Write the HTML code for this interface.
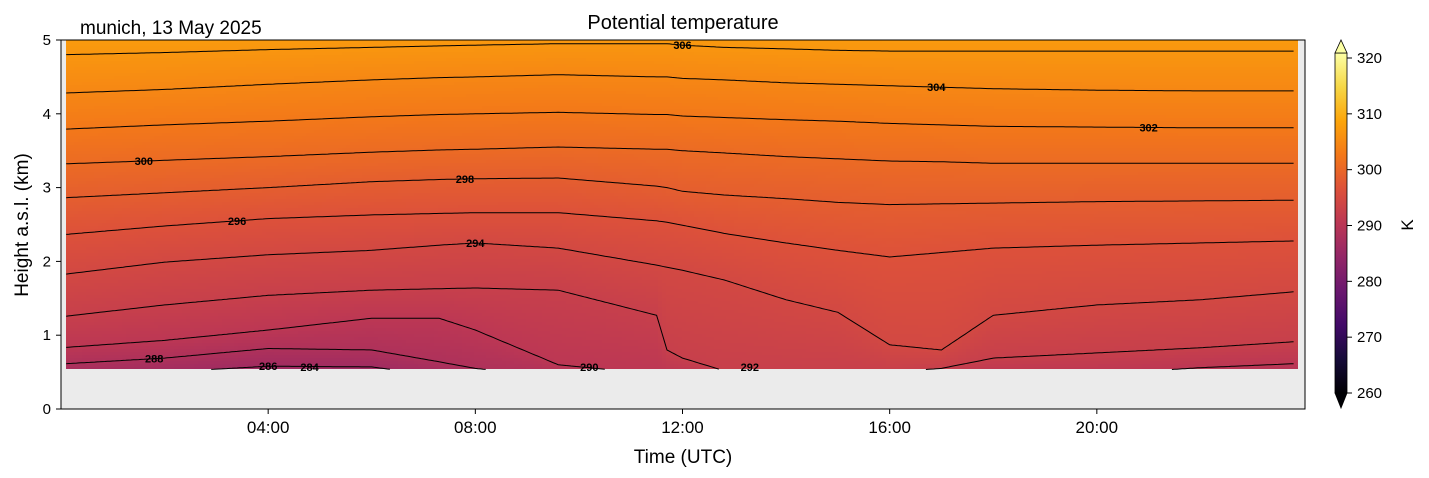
<!DOCTYPE html>
<html><head><meta charset="utf-8"><style>
body{margin:0;background:#fff;}
svg{display:block;font-family:"Liberation Sans",sans-serif;}
</style></head><body>
<svg id="chart" width="1429" height="478" viewBox="0 0 1429 478">
<rect x="61" y="40" width="1244" height="369" fill="#ebebeb"/>
<g id="cells"></g>
<g id="contours"></g>
<g id="clabels"></g>
<rect x="61" y="40" width="1244" height="369" fill="none" stroke="#000" stroke-width="1"/>
<g id="axes"></g>
<text x="683" y="29" font-size="20" text-anchor="middle">Potential temperature</text>
<text x="80" y="34" font-size="19">munich, 13 May 2025</text>
<text x="683" y="463" font-size="19" text-anchor="middle">Time (UTC)</text>
<text transform="translate(28,225) rotate(-90)" font-size="19" text-anchor="middle">Height a.s.l. (km)</text>
<defs><linearGradient id="cbg" x1="0" y1="1" x2="0" y2="0">
<stop offset="0" stop-color="#000004"/><stop offset="0.1" stop-color="#160b39"/><stop offset="0.2" stop-color="#420a68"/><stop offset="0.3" stop-color="#6a176e"/><stop offset="0.4" stop-color="#932667"/><stop offset="0.5" stop-color="#bc3754"/><stop offset="0.6" stop-color="#dd513a"/><stop offset="0.7" stop-color="#f37819"/><stop offset="0.8" stop-color="#fca50a"/><stop offset="0.9" stop-color="#f6d746"/><stop offset="1" stop-color="#fcffa4"/></linearGradient></defs>
<g>
<rect x="1335" y="53" width="12" height="340" fill="url(#cbg)" stroke="#000" stroke-width="0.8"/>
<polygon points="1335,53 1341,40 1347,53" fill="#fcffa4" stroke="#000" stroke-width="0.8"/>
<polygon points="1335,393 1341,408 1347,393" fill="#000004" stroke="#000" stroke-width="0.8"/>
<g id="cbticks"></g>
<text transform="translate(1413,225) rotate(-90)" font-size="17" text-anchor="middle">K</text>
</g>
</svg>
<script>
const times=[0,2,4,6,7.3,8,9.6,11.5,11.7,12,12.8,14,15,16,17,18,20,22,24];
const levels=[280,282,284,286,288,290,292,294,296,298,300,302,304,306,308];
const h280=[0,0,0,0,0,0,0,0,0,0,0,0,0,0,0,0,0,0,0];
const h282=[0.15,0.15,0.15,0.15,0.15,0.15,0.15,0.15,0.15,0.15,0.15,0.15,0.15,0.15,0.15,0.15,0.15,0.15,0.15];
const h284=[0.3,0.3,0.3,0.3,0.3,0.3,0.3,0.3,0.3,0.3,0.3,0.3,0.3,0.3,0.3,0.3,0.3,0.3,0.3];
const h286=[0.45,0.5,0.58,0.57,0.45,0.42,0.4,0.4,0.4,0.4,0.4,0.4,0.4,0.4,0.4,0.4,0.4,0.4,0.4];
const h288=[0.61,0.69,0.82,0.80,0.64,0.55,0.44,0.44,0.44,0.44,0.44,0.44,0.44,0.44,0.44,0.44,0.44,0.44,0.44];
const h290=[0.83,0.93,1.07,1.23,1.23,1.07,0.6,0.47,0.47,0.47,0.47,0.47,0.47,0.47,0.47,0.47,0.47,0.56,0.62];
const h292=[1.25,1.41,1.54,1.61,1.63,1.64,1.61,1.27,0.8,0.69,0.52,0.5,0.5,0.5,0.55,0.69,0.76,0.83,0.92];
const h294=[1.82,1.99,2.09,2.15,2.22,2.25,2.18,1.95,1.92,1.88,1.75,1.48,1.31,0.87,0.80,1.27,1.41,1.48,1.60];
const h296=[2.36,2.48,2.58,2.63,2.65,2.66,2.66,2.55,2.53,2.49,2.38,2.25,2.15,2.06,2.12,2.18,2.22,2.25,2.28];
const h298=[2.86,2.93,3.0,3.08,3.11,3.12,3.13,3.02,3.0,2.95,2.9,2.85,2.8,2.77,2.78,2.79,2.81,2.82,2.83];
const h300=[3.32,3.37,3.42,3.48,3.51,3.52,3.55,3.52,3.52,3.5,3.47,3.42,3.39,3.36,3.35,3.33,3.33,3.33,3.33];
const h302=[3.79,3.85,3.9,3.96,3.99,4.0,4.02,3.99,3.99,3.97,3.95,3.92,3.9,3.87,3.85,3.83,3.82,3.81,3.81];
const h304=[4.28,4.33,4.4,4.46,4.49,4.5,4.53,4.5,4.5,4.48,4.46,4.42,4.40,4.38,4.36,4.34,4.32,4.31,4.31];
const h306=[4.80,4.83,4.87,4.9,4.92,4.93,4.95,4.95,4.95,4.93,4.9,4.88,4.86,4.85,4.85,4.85,4.85,4.85,4.85];
const h308=[5.4,5.4,5.4,5.4,5.4,5.4,5.4,5.4,5.4,5.4,5.4,5.4,5.4,5.4,5.4,5.4,5.4,5.4,5.4];
const levelHeights=[h280,h282,h284,h286,h288,h290,h292,h294,h296,h298,h300,h302,h304,h306,h308];
const contourLevels=[286,288,290,292,294,296,298,300,302,304,306];
const labelLevels=[306,304,302,300,298,296,294,292,290,288,286,284];
const labelTimes=[12,16.9,21,1.6,7.8,3.4,8,13.3,10.2,1.8,4,4.8];
const xTicks=[4,8,12,16,20];
const xTickLabels=["04:00","08:00","12:00","16:00","20:00"];
const yTicks=[0,1,2,3,4,5];
const cbTicks=[260,270,280,290,300,310,320];
const hMin=0.54;

const NS="http://www.w3.org/2000/svg";
const X=t=>61+t*(1243/24);
const Y=h=>409-h*73.8;
const CB=v=>393-(v-260)*(335/60);
const stops=["#000004","#160b39","#420a68","#6a176e","#932667","#bc3754","#dd513a","#f37819","#fca50a","#f6d746","#fcffa4"].map(c=>[parseInt(c.slice(1,3),16),parseInt(c.slice(3,5),16),parseInt(c.slice(5,7),16)]);
function color(v){let f=Math.max(0,Math.min(1,(v-260)/60))*10;let i=Math.min(9,Math.floor(f)),r=f-i;const a=stops[i],b=stops[i+1];return `rgb(${a.map((c,k)=>Math.round(c+(b[k]-c)*r)).join(',')})`;}
function interpT(arr,t){for(let i=0;i<times.length-1;i++){if(t<=times[i+1]){const r=(t-times[i])/(times[i+1]-times[i]);return arr[i]+(arr[i+1]-arr[i])*r;}}return arr[arr.length-1];}
function theta(t,h){const hs=levelHeights.map(a=>interpT(a,t));for(let i=0;i<hs.length-1;i++){if(h<=hs[i+1]){const d=hs[i+1]-hs[i]||1e-6;return levels[i]+(levels[i+1]-levels[i])*Math.max(0,(h-hs[i])/d);}}return levels[levels.length-1];}
const cells=document.getElementById('cells');
const x0=66,x1=1298,cw=4,ch=3;
for(let px=x0;px<x1;px+=cw){const t=(px+cw/2-61)/(1243/24);
 for(let py=40;py<Y(hMin);py+=ch){const h=(409-(py+ch/2))/73.8;
  const r=document.createElementNS(NS,'rect');
  r.setAttribute('x',px);r.setAttribute('y',py);r.setAttribute('width',Math.min(cw+0.6,x1-px));r.setAttribute('height',Math.min(ch+0.6,Y(hMin)-py));
  r.setAttribute('fill',color(theta(t,h)));r.setAttribute('shape-rendering','crispEdges');
  
  
  cells.appendChild(r);}}
const cg=document.getElementById('contours'),lg=document.getElementById('clabels');
contourLevels.forEach(lv=>{const arr=levelHeights[levels.indexOf(lv)];let segs=[],cur=[];
 for(let t=0.1;t<=23.85;t+=0.05){const h=interpT(arr,t);if(h>=hMin-0.005&&h<=5){cur.push(X(t).toFixed(1)+','+Y(h).toFixed(1));}else if(cur.length){segs.push(cur);cur=[];}}
 if(cur.length)segs.push(cur);
 segs.forEach(s=>{if(s.length<2)return;const p=document.createElementNS(NS,'polyline');p.setAttribute('points',s.join(' '));p.setAttribute('fill','none');p.setAttribute('stroke','#000');p.setAttribute('stroke-width','1');
 
 
 cg.appendChild(p);});});
labelLevels.forEach((lv,k)=>{const arr=levelHeights[levels.indexOf(lv)];const lt=labelTimes[k];const lh=Math.max(interpT(arr,lt),hMin+0.03);
 const tx=document.createElementNS(NS,'text');tx.setAttribute('x',X(lt));tx.setAttribute('y',Y(lh)+4);tx.setAttribute('font-size','11');tx.setAttribute('font-weight','bold');tx.setAttribute('text-anchor','middle');tx.textContent=lv;
 
 
 lg.appendChild(tx);});
const ax=document.getElementById('axes');
xTicks.forEach((t,i)=>{const l=document.createElementNS(NS,'line');l.setAttribute('x1',X(t));l.setAttribute('x2',X(t));l.setAttribute('y1',409);l.setAttribute('y2',414);l.setAttribute('stroke','#000');
 
 
 ax.appendChild(l);
 const tx=document.createElementNS(NS,'text');tx.setAttribute('x',X(t));tx.setAttribute('y',433);tx.setAttribute('font-size','17');tx.setAttribute('text-anchor','middle');tx.textContent=xTickLabels[i];
 
 
 ax.appendChild(tx);});
yTicks.forEach(v=>{const l=document.createElementNS(NS,'line');l.setAttribute('x1',56);l.setAttribute('x2',61);l.setAttribute('y1',Y(v));l.setAttribute('y2',Y(v));l.setAttribute('stroke','#000');
 
 
 ax.appendChild(l);
 const tx=document.createElementNS(NS,'text');tx.setAttribute('x',51);tx.setAttribute('y',Y(v)+5);tx.setAttribute('font-size','15');tx.setAttribute('text-anchor','end');tx.textContent=v;
 
 
 ax.appendChild(tx);});
const cbt=document.getElementById('cbticks');
cbTicks.forEach(v=>{const l=document.createElementNS(NS,'line');l.setAttribute('x1',1347);l.setAttribute('x2',1352);l.setAttribute('y1',CB(v));l.setAttribute('y2',CB(v));l.setAttribute('stroke','#000');
 
 
 cbt.appendChild(l);
 const tx=document.createElementNS(NS,'text');tx.setAttribute('x',1357);tx.setAttribute('y',CB(v)+5);tx.setAttribute('font-size','15');tx.textContent=v;
 
 
 cbt.appendChild(tx);});
</script>
</body></html>
